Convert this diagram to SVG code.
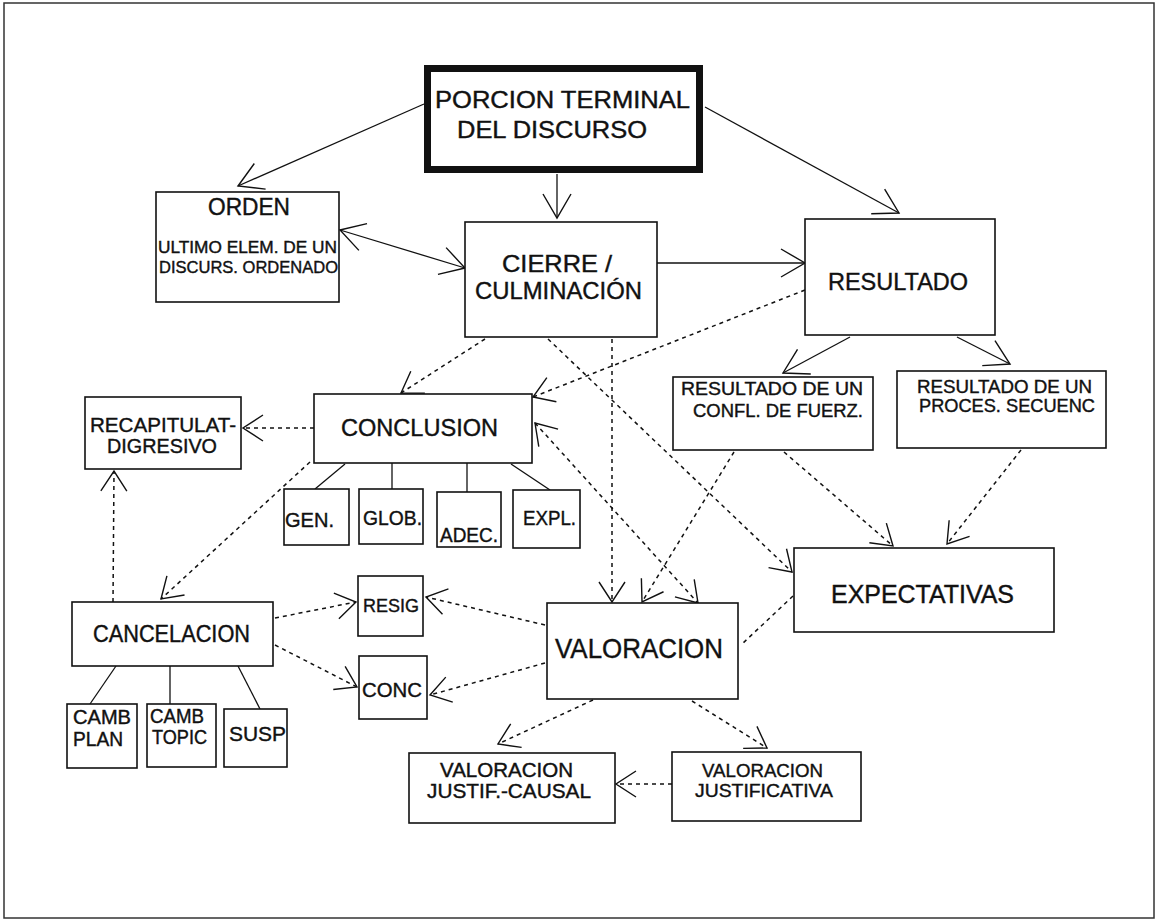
<svg xmlns="http://www.w3.org/2000/svg" width="1156" height="922" viewBox="0 0 1156 922">
<style>
  .box { fill: #ffffff; stroke: #111; stroke-width: 1.6; }
  .thick { fill: #ffffff; stroke: #111; stroke-width: 7; }
  .t { font-family: "Liberation Sans", Arial, sans-serif; fill: #111; stroke: #111; stroke-width: 0.4; }
  .solid { fill: none; stroke: #111; stroke-width: 1.3; }
  .dot { fill: none; stroke: #111; stroke-width: 1.5; stroke-dasharray: 4 4; }
  .plain { fill: none; stroke: #111; stroke-width: 1.3; }
</style>
<defs>
  <marker id="ah" markerUnits="userSpaceOnUse" markerWidth="40" markerHeight="40" viewBox="-30 -20 34 40" refX="0" refY="0" orient="auto-start-reverse">
    <path d="M-24,-14 L0,0 L-24,14" fill="none" stroke="#111" stroke-width="1.4"/>
  </marker>
  <marker id="ahd" markerUnits="userSpaceOnUse" markerWidth="40" markerHeight="40" viewBox="-30 -20 34 40" refX="0" refY="0" orient="auto-start-reverse">
    <path d="M-20,-13 L0,0 L-20,13" fill="none" stroke="#111" stroke-width="1.4"/>
  </marker>
</defs>
<rect x="0" y="0" width="1156" height="922" fill="#ffffff"/>
<rect x="4" y="3" width="1150" height="915" fill="none" stroke="#333" stroke-width="1.5"/>

<g id="connectors">
  <line class="solid" x1="424" y1="104" x2="238" y2="186" marker-end="url(#ah)"/>
  <line class="solid" x1="557" y1="174" x2="557" y2="218" marker-end="url(#ah)"/>
  <line class="solid" x1="705" y1="107" x2="899" y2="213" marker-end="url(#ah)"/>
  <line class="solid" x1="340" y1="230" x2="465" y2="268" marker-start="url(#ah)" marker-end="url(#ah)"/>
  <line class="solid" x1="657" y1="263" x2="805" y2="263" marker-end="url(#ah)"/>
  <line class="solid" x1="850" y1="337" x2="783" y2="373" marker-end="url(#ah)"/>
  <line class="solid" x1="957" y1="337" x2="1010" y2="364" marker-end="url(#ah)"/>
  <line class="plain" x1="345" y1="464" x2="315" y2="489"/>
  <line class="plain" x1="392" y1="463" x2="392" y2="489"/>
  <line class="plain" x1="467" y1="463" x2="467" y2="492"/>
  <line class="plain" x1="511" y1="464" x2="550" y2="490"/>
  <line class="plain" x1="116" y1="666" x2="90" y2="704"/>
  <line class="plain" x1="170" y1="666" x2="170" y2="704"/>
  <line class="plain" x1="238" y1="666" x2="260" y2="709"/>
  <line class="dot" x1="485" y1="339" x2="401" y2="393" marker-end="url(#ahd)"/>
  <line class="dot" x1="805" y1="290" x2="533" y2="397" marker-end="url(#ahd)"/>
  <line class="dot" x1="612" y1="339" x2="612" y2="602" marker-end="url(#ahd)"/>
  <line class="dot" x1="548" y1="339" x2="792" y2="572" marker-end="url(#ahd)"/>
  <line class="dot" x1="314" y1="428" x2="243" y2="428" marker-end="url(#ahd)"/>
  <line class="dot" x1="310" y1="462" x2="161" y2="599" marker-end="url(#ahd)"/>
  <line class="dot" x1="535" y1="423" x2="698" y2="603" marker-start="url(#ahd)" marker-end="url(#ahd)"/>
  <line class="dot" x1="734" y1="452" x2="642" y2="602" marker-end="url(#ahd)"/>
  <line class="dot" x1="784" y1="452" x2="893" y2="546" marker-end="url(#ahd)"/>
  <line class="dot" x1="1021" y1="450" x2="947" y2="544" marker-end="url(#ahd)"/>
  <line class="dot" x1="793" y1="596" x2="741" y2="645"/>
  <line class="dot" x1="113" y1="602" x2="114" y2="471" marker-end="url(#ahd)"/>
  <line class="dot" x1="275" y1="618" x2="356" y2="602" marker-end="url(#ahd)"/>
  <line class="dot" x1="275" y1="645" x2="357" y2="687" marker-end="url(#ahd)"/>
  <line class="dot" x1="545" y1="625" x2="426" y2="597" marker-end="url(#ahd)"/>
  <line class="dot" x1="545" y1="663" x2="430" y2="695" marker-end="url(#ahd)"/>
  <line class="dot" x1="593" y1="700" x2="498" y2="744" marker-end="url(#ahd)"/>
  <line class="dot" x1="692" y1="701" x2="767" y2="748" marker-end="url(#ahd)"/>
  <line class="dot" x1="672" y1="784" x2="616" y2="784" marker-end="url(#ahd)"/>
</g>

<g id="porcion">
  <rect class="thick" x="427.5" y="68.5" width="272" height="101"/>
  <text class="t" x="435" y="108" font-size="23" textLength="255" lengthAdjust="spacingAndGlyphs">PORCION TERMINAL</text>
  <text class="t" x="457" y="138" font-size="23" textLength="190" lengthAdjust="spacingAndGlyphs">DEL DISCURSO</text>
</g>
<g id="orden">
  <rect class="box" x="156" y="192" width="183" height="110"/>
  <text class="t" x="208" y="215" font-size="23" textLength="82" lengthAdjust="spacingAndGlyphs">ORDEN</text>
  <text class="t" x="158" y="253" font-size="16.5" textLength="179" lengthAdjust="spacingAndGlyphs">ULTIMO ELEM. DE  UN</text>
  <text class="t" x="159" y="273" font-size="16.5" textLength="179" lengthAdjust="spacingAndGlyphs">DISCURS. ORDENADO</text>
</g>
<g id="cierre">
  <rect class="box" x="465" y="222" width="192" height="115"/>
  <text class="t" x="502" y="272" font-size="24" textLength="110" lengthAdjust="spacingAndGlyphs">CIERRE /</text>
  <text class="t" x="475" y="299" font-size="24" textLength="167" lengthAdjust="spacingAndGlyphs">CULMINACIÓN</text>
</g>
<g id="resultado">
  <rect class="box" x="805" y="219" width="190" height="116"/>
  <text class="t" x="828" y="290" font-size="24" textLength="140" lengthAdjust="spacingAndGlyphs">RESULTADO</text>
</g>
<g id="confl">
  <rect class="box" x="673" y="377" width="200" height="73"/>
  <text class="t" x="681" y="395" font-size="18.5" textLength="182" lengthAdjust="spacingAndGlyphs">RESULTADO DE UN</text>
  <text class="t" x="693" y="417" font-size="18.5" textLength="170" lengthAdjust="spacingAndGlyphs">CONFL. DE FUERZ.</text>
</g>
<g id="proces">
  <rect class="box" x="897" y="371" width="209" height="77"/>
  <text class="t" x="917" y="393" font-size="18.5" textLength="175" lengthAdjust="spacingAndGlyphs">RESULTADO DE UN</text>
  <text class="t" x="919" y="412" font-size="18.5" textLength="176" lengthAdjust="spacingAndGlyphs">PROCES. SECUENC</text>
</g>
<g id="conclusion">
  <rect class="box" x="314" y="394" width="218" height="69"/>
  <text class="t" x="341" y="436" font-size="24" textLength="157" lengthAdjust="spacingAndGlyphs">CONCLUSION</text>
</g>
<g id="recapitulat">
  <rect class="box" x="85" y="397" width="156" height="72"/>
  <text class="t" x="90" y="432" font-size="21" textLength="146" lengthAdjust="spacingAndGlyphs">RECAPITULAT-</text>
  <text class="t" x="107" y="453" font-size="21" textLength="110" lengthAdjust="spacingAndGlyphs">DIGRESIVO</text>
</g>
<g id="gen">
  <rect class="box" x="284" y="489" width="65" height="56"/>
  <text class="t" x="285" y="527" font-size="21" textLength="49" lengthAdjust="spacingAndGlyphs">GEN.</text>
</g>
<g id="glob">
  <rect class="box" x="359" y="489" width="64" height="55"/>
  <text class="t" x="363" y="525" font-size="21" textLength="59" lengthAdjust="spacingAndGlyphs">GLOB.</text>
</g>
<g id="adec">
  <rect class="box" x="437" y="492" width="64" height="55"/>
  <text class="t" x="440" y="542" font-size="21" textLength="58" lengthAdjust="spacingAndGlyphs">ADEC.</text>
</g>
<g id="expl">
  <rect class="box" x="513" y="490" width="67" height="58"/>
  <text class="t" x="523" y="525" font-size="21" textLength="53" lengthAdjust="spacingAndGlyphs">EXPL.</text>
</g>
<g id="cancelacion">
  <rect class="box" x="72" y="602" width="201" height="64"/>
  <text class="t" x="93" y="642" font-size="23" textLength="157" lengthAdjust="spacingAndGlyphs">CANCELACION</text>
</g>
<g id="resig">
  <rect class="box" x="358" y="576" width="65" height="60"/>
  <text class="t" x="363" y="612" font-size="19" textLength="56" lengthAdjust="spacingAndGlyphs">RESIG</text>
</g>
<g id="conc">
  <rect class="box" x="359" y="656" width="68" height="63"/>
  <text class="t" x="362" y="697" font-size="21" textLength="60" lengthAdjust="spacingAndGlyphs">CONC</text>
</g>
<g id="camb-plan">
  <rect class="box" x="67" y="704" width="70" height="64"/>
  <text class="t" x="73" y="724" font-size="19.5" textLength="58" lengthAdjust="spacingAndGlyphs">CAMB</text>
  <text class="t" x="73" y="746" font-size="19.5" textLength="50" lengthAdjust="spacingAndGlyphs">PLAN</text>
</g>
<g id="camb-topic">
  <rect class="box" x="147" y="704" width="69" height="63"/>
  <text class="t" x="150" y="723" font-size="19.5" textLength="54" lengthAdjust="spacingAndGlyphs">CAMB</text>
  <text class="t" x="152" y="744" font-size="19.5" textLength="55" lengthAdjust="spacingAndGlyphs">TOPIC</text>
</g>
<g id="susp">
  <rect class="box" x="224" y="709" width="63" height="58"/>
  <text class="t" x="229" y="741" font-size="21" textLength="57" lengthAdjust="spacingAndGlyphs">SUSP</text>
</g>
<g id="valoracion">
  <rect class="box" x="547" y="603" width="191" height="96"/>
  <text class="t" x="555" y="658" font-size="28" textLength="168" lengthAdjust="spacingAndGlyphs">VALORACION</text>
</g>
<g id="expectativas">
  <rect class="box" x="794" y="548" width="260" height="84"/>
  <text class="t" x="831" y="603" font-size="25" textLength="183" lengthAdjust="spacingAndGlyphs">EXPECTATIVAS</text>
</g>
<g id="val-causal">
  <rect class="box" x="409" y="753" width="206" height="70"/>
  <text class="t" x="440" y="777" font-size="19.5" textLength="133" lengthAdjust="spacingAndGlyphs">VALORACION</text>
  <text class="t" x="427" y="798" font-size="19.5" textLength="164" lengthAdjust="spacingAndGlyphs">JUSTIF.-CAUSAL</text>
</g>
<g id="val-justificativa">
  <rect class="box" x="672" y="752" width="189" height="69"/>
  <text class="t" x="702" y="777" font-size="18.5" textLength="121" lengthAdjust="spacingAndGlyphs">VALORACION</text>
  <text class="t" x="695" y="797" font-size="18.5" textLength="138" lengthAdjust="spacingAndGlyphs">JUSTIFICATIVA</text>
</g>
</svg>
